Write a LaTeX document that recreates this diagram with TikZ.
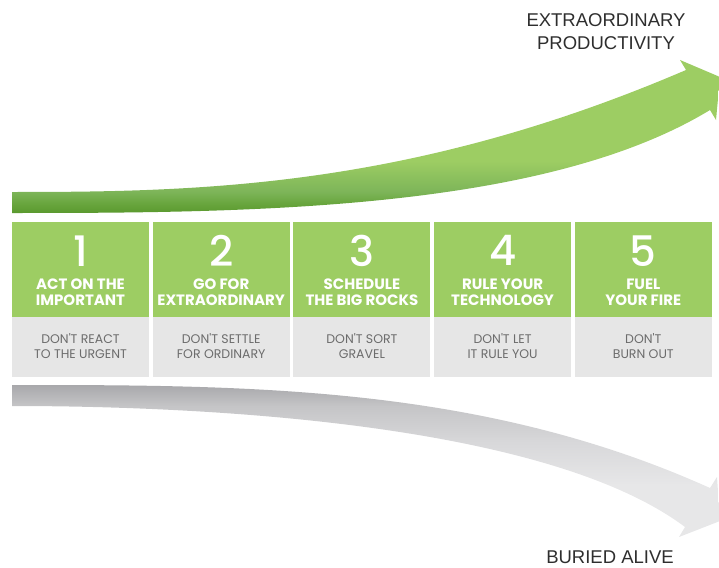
\documentclass[tikz,border=0pt]{standalone}
\usepackage{fontspec}
\setmainfont{Liberation Sans}
\newfontfamily\popfont{Poppins}
\newfontfamily\popmed{Poppins Medium}
\usetikzlibrary{positioning}

\definecolor{boxgreen}{HTML}{9DCD63}
\definecolor{boxgray}{HTML}{E6E6E6}
\definecolor{subgray}{HTML}{6C6C6C}
\definecolor{labelgray}{HTML}{2E2E2E}
\definecolor{arrowlight}{HTML}{9DCD63}
\definecolor{arrowmid}{HTML}{7DB559}
\definecolor{arrowdeep}{HTML}{68A53D}
\definecolor{arrowdark}{HTML}{5A992E}
\definecolor{fallight}{HTML}{E7E7E8}
\definecolor{falmid}{HTML}{D8D8DA}
\definecolor{falbot}{HTML}{C5C5C7}
\definecolor{faltop}{HTML}{A8A8AB}

\pgfdeclareverticalshading{greenrise}{100bp}{color(0bp)=(arrowdark); color(25bp)=(arrowdark); color(28bp)=(arrowdeep); color(32bp)=(arrowmid); color(42bp)=(arrowlight); color(100bp)=(arrowlight)}
\pgfdeclareverticalshading{grayfall}{100bp}{color(0bp)=(fallight); color(42bp)=(fallight); color(56bp)=(falmid); color(68bp)=(falbot); color(75bp)=(faltop); color(100bp)=(faltop)}

\begin{document}
\begin{tikzpicture}[x=1pt, y=-1pt,
    stepbox/.style={fill=boxgreen, minimum width=137pt, minimum height=95pt, inner sep=0pt},
    dontbox/.style={fill=boxgray, minimum width=137pt, minimum height=60pt, inner sep=0pt},
    num/.style={text=white, inner sep=0pt, font=\popmed\fontsize{42}{42}\selectfont},
    steptitle/.style={text=white, inner sep=0pt, align=center, font=\popfont\bfseries\fontsize{15}{16}\selectfont},
    donttext/.style={text=subgray, inner sep=0pt, align=center, font=\popfont\fontsize{12.5}{15}\selectfont},
    outcome/.style={text=labelgray, inner sep=0pt, align=center, font=\fontsize{18.5}{23}\selectfont}]
  \useasboundingbox (0,0) rectangle (719,567);
  \clip (0,0) rectangle (719,567);

  % rising arrow
  \shade[shading=greenrise] (12,192) .. controls (200,192) and (411,188) .. (686,70)
    -- (680,60) -- (720,77) -- (716,120) -- (710,110)
    .. controls (544.5,210.7) and (250,213) .. (12,213) -- cycle;
  % falling arrow
  \shade[shading=grayfall] (12,385) .. controls (250,385) and (482.5,385.5) .. (710,488)
    -- (717,477) -- (720,521) -- (679,537) -- (685,527)
    .. controls (541,419) and (180,406) .. (12,406) -- cycle;

  \node[outcome] (up) at (606,32) {EXTRAORDINARY\\PRODUCTIVITY};
  \node[outcome] (down) at (610,557) {BURIED ALIVE};

  % the five steps
  \node[stepbox] (g1) at (80.5,269.5) {};
  \node[stepbox, right=3.3pt of g1] (g2) {};
  \node[stepbox, right=3.3pt of g2] (g3) {};
  \node[stepbox, right=3.3pt of g3] (g4) {};
  \node[stepbox, right=3.3pt of g4] (g5) {};

  \node[dontbox, below=0pt of g1] (d1) {};
  \node[dontbox, below=0pt of g2] (d2) {};
  \node[dontbox, below=0pt of g3] (d3) {};
  \node[dontbox, below=0pt of g4] (d4) {};
  \node[dontbox, below=0pt of g5] (d5) {};

  \node[num] (n1) at ([yshift=-29pt]g1.north) {1};
  \node[num] (n2) at ([yshift=-29pt]g2.north) {2};
  \node[num] (n3) at ([yshift=-29pt]g3.north) {3};
  \node[num] (n4) at ([yshift=-29pt]g4.north) {4};
  \node[num] (n5) at ([yshift=-29pt]g5.north) {5};

  \node[steptitle] (t1) at ([yshift=-70.5pt]g1.north) {ACT ON THE\\IMPORTANT};
  \node[steptitle] (t2) at ([yshift=-70.5pt]g2.north) {GO FOR\\EXTRAORDINARY};
  \node[steptitle] (t3) at ([yshift=-70.5pt]g3.north) {SCHEDULE\\THE BIG ROCKS};
  \node[steptitle] (t4) at ([yshift=-70.5pt]g4.north) {RULE YOUR\\TECHNOLOGY};
  \node[steptitle] (t5) at ([yshift=-70.5pt]g5.north) {FUEL\\YOUR FIRE};

  \node[donttext] (s1) at ([yshift=-28.5pt]d1.north) {DON'T REACT\\TO THE URGENT};
  \node[donttext] (s2) at ([yshift=-28.5pt]d2.north) {DON'T SETTLE\\FOR ORDINARY};
  \node[donttext] (s3) at ([yshift=-28.5pt]d3.north) {DON'T SORT\\GRAVEL};
  \node[donttext] (s4) at ([yshift=-28.5pt]d4.north) {DON'T LET\\IT RULE YOU};
  \node[donttext] (s5) at ([yshift=-28.5pt]d5.north) {DON'T\\BURN OUT};
\end{tikzpicture}
\end{document}
